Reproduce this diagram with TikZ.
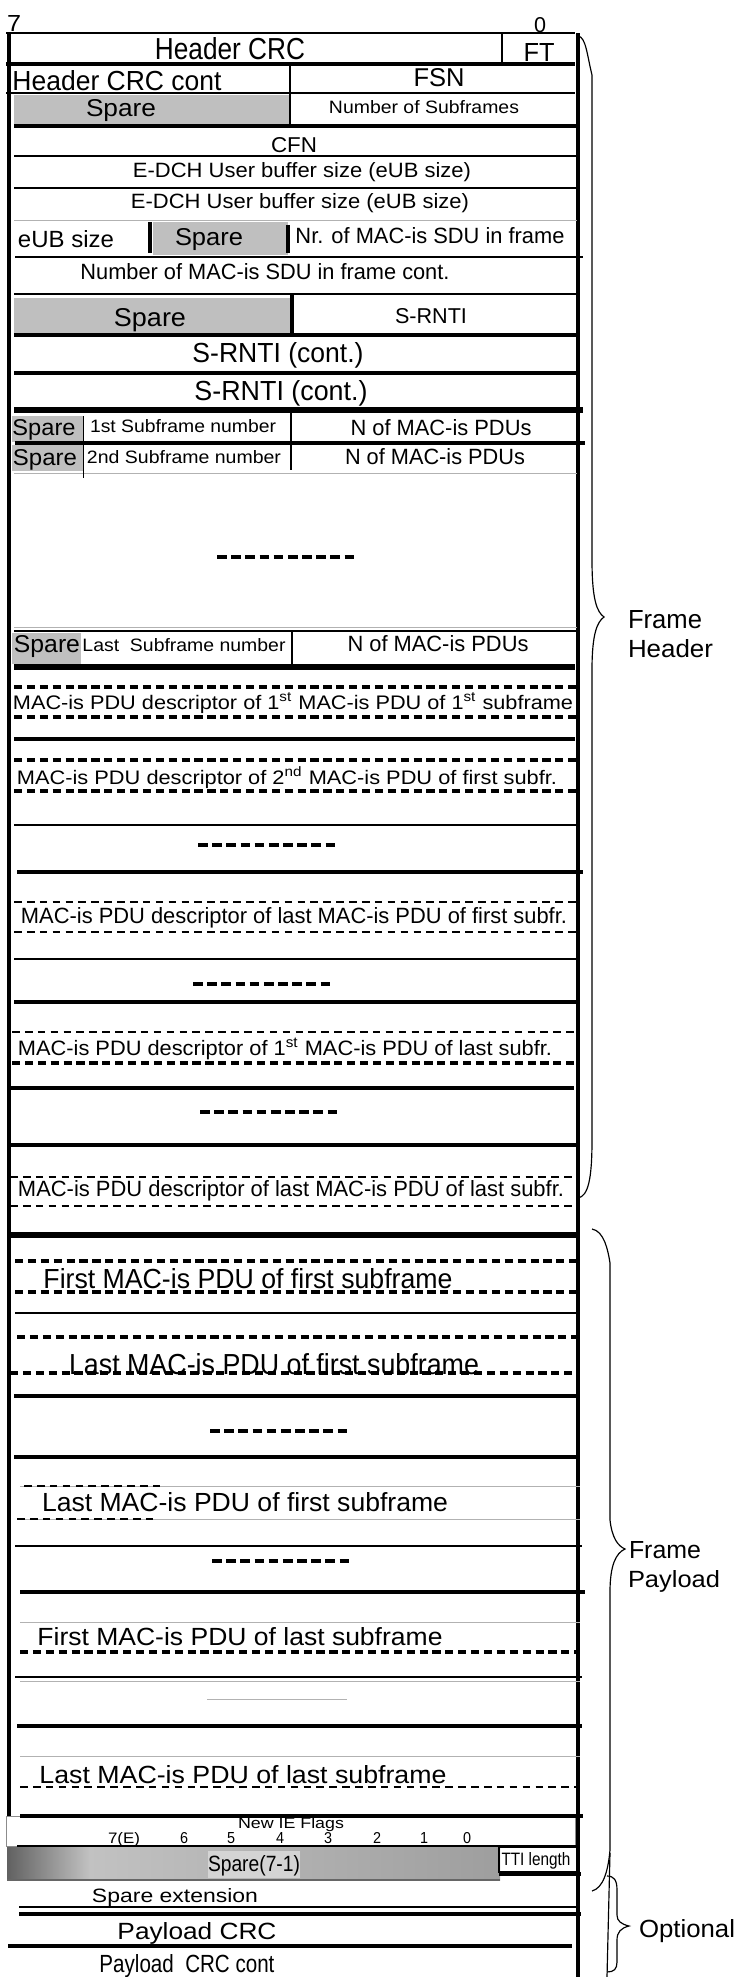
\documentclass[tikz,border=0pt]{standalone}
\usepackage{fontspec}
\setmainfont{Liberation Sans}
\usepackage{graphicx}
\newlength\pxu
\setlength\pxu{0.03cm}
\newcommand\fitbox[3]{\resizebox{#1\pxu}{#2\pxu}{#3}}

\begin{document}
\begin{tikzpicture}[
    x=0.03cm, y=-0.03cm,
    fld/.style={anchor=base, inner sep=0pt, outer sep=0pt},
    side/.style={anchor=base west, inner sep=0pt, outer sep=0pt},
    spg/.style={fill=black!25},
    lwa/.style={line width=1.7pt},
    lwb/.style={line width=2.3pt},
    lwc/.style={line width=2.8pt},
    lwd/.style={line width=3.4pt},
    lwe/.style={line width=4.3pt},
    lwf/.style={line width=5.1pt},
    gln/.style={black!30, line width=0.85pt},
    sqrow/.style={line width=3.8pt, dash pattern=on 7pt off 4pt},
    fdrow/.style={line width=2.3pt, dash pattern=on 6.5pt off 4.5pt},
    gaprow/.style={line width=2.6pt, dash pattern=on 8.3pt off 3.8pt},
    brc/.style={line width=1pt}
]
\useasboundingbox (0,0) rectangle (739,1977);

\fill[spg] (14,95) rectangle (290,124);
\fill[spg] (153,222) rectangle (288,255);
\fill[spg] (14,298) rectangle (290,334);
\fill[spg] (12,416) rectangle (83,442);
\fill[spg] (12,445) rectangle (83,471);
\fill[spg] (12,633) rectangle (81,664);

\shade[left color=black!62, right color=black!24] (7,1847) rectangle (90,1880);
\shade[left color=black!24, middle color=black!16, right color=black!38] (90,1847) rectangle (500,1880);
\fill[black!17] (208,1851) rectangle (300,1878);
\draw[black!60, line width=1.2pt] (7,1880) -- (500,1880);
\draw[black!45, line width=0.85pt] (6,1816) rectangle (575,1846);

\draw[lwc] (9,33) -- (9,1816);
\draw[lwc] (578,33) -- (578,1977);

\draw[lwa] (6,33) -- (575,33) (17,1846) -- (577,1846);
\draw[lwb] (6,93) -- (575,93) (14,156) -- (577,156) (14,188) -- (577,188)
    (15,257) -- (583,257) (14,294) -- (577,294) (14,631) -- (577,631)
    (14,825) -- (577,825) (14,959) -- (577,959) (15,1313) -- (580,1313)
    (15,1546) -- (582,1546) (15,1677) -- (582,1677);
\draw[lwc] (6,64) -- (575,64) (14,126) -- (577,126) (14,335) -- (577,335)
    (15,443) -- (585,443) (19,1914) -- (581,1914) (8,1946) -- (572,1946);
\draw[lwd] (14,373) -- (577,373) (14,739) -- (575,739) (17,872) -- (583,872)
    (14,1002) -- (577,1002) (10,1088) -- (574,1088) (10,1145) -- (577,1145)
    (14,1396) -- (580,1396) (14,1457) -- (580,1457) (20,1592) -- (585,1592)
    (17,1726) -- (582,1726) (20,1816) -- (583,1816) (499,1874) -- (581,1874);
\draw[lwe] (14,410) -- (583,410);
\draw[lwf] (14,667) -- (575,667) (10,1235) -- (577,1235);
\draw[gln] (14,220) -- (577,220) (14,473) -- (577,473) (14,627) -- (577,627)
    (20,1486) -- (580,1486) (17,1519) -- (580,1519) (20,1622) -- (580,1622)
    (20,1681) -- (580,1681) (207,1699) -- (347,1699) (20,1756) -- (580,1756);
\draw[line width=0.9pt] (19,1907) -- (579,1907);
\draw[sqrow] (14,687) -- (577,687) (14,717) -- (577,717) (14,760) -- (577,760)
    (14,791) -- (577,791) (12,1063) -- (577,1063) (15,1261) -- (580,1261)
    (15,1292) -- (577,1292) (17,1337) -- (583,1337) (10,1373) -- (580,1373)
    (20,1652) -- (580,1652);
\draw[fdrow] (14,902) -- (580,902) (14,932) -- (577,932) (12,1032) -- (577,1032)
    (10,1177) -- (577,1177) (10,1206) -- (577,1206) (20,1787) -- (580,1787)
    (24,1486) -- (164,1486) (17,1519) -- (157,1519);
\draw[gaprow] (217,557) -- (355,557) (198,845) -- (338,845) (193,984) -- (331,984)
    (200,1112) -- (340,1112) (210,1431) -- (348,1431) (212,1561) -- (350,1561);

\draw[lwa] (502,33) -- (502,64) (290,64) -- (290,126);
\draw[lwc] (150,222) -- (150,253) (288,225) -- (288,253) (292,294) -- (292,335);
\draw[line width=0.85pt] (83,416) -- (83,478);
\draw[lwb] (291,411) -- (291,470) (292,631) -- (292,665);
\draw[line width=1.2pt] (499,1847) rectangle (578,1872);

\draw[brc] (578,36) .. controls (586,37) and (587,55) .. (592,75) -- (592,560)
    .. controls (592,600) and (597,612) .. (604,617)
    .. controls (597,622) and (592,634) .. (592,670) -- (592,1140)
    .. controls (592,1180) and (588,1196) .. (578,1198);
\draw[brc] (592,1229) .. controls (604,1231) and (608,1250) .. (610,1263) -- (610,1520)
    .. controls (612,1538) and (618,1546) .. (625,1549)
    .. controls (616,1553) and (610,1565) .. (610,1592) -- (610,1850)
    .. controls (608,1872) and (603,1888) .. (592,1891);
\draw[brc] (610,1853) -- (607,1977);
\draw[brc] (607,1876) .. controls (614,1876) and (617,1880) .. (617,1890) -- (617,1915)
    .. controls (617,1921) and (621,1924) .. (629,1926)
    .. controls (621,1928) and (617,1932) .. (617,1940) -- (617,1962)
    .. controls (617,1969) and (614,1972) .. (607,1972);

\node[fld] (bit7) at (14,31) {\fitbox{14}{16}{7}};
\node[fld] (bit0) at (540,32) {\fitbox{12}{15}{0}};
\node[fld] (hcrc) at (230,59) {\fitbox{150}{22}{Header CRC}};
\node[fld] (ft) at (539,61) {\fitbox{31}{18}{FT}};
\node[fld] (hcrcc) at (117,90) {\fitbox{209}{20}{Header CRC cont}};
\node[fld] (fsn) at (439,86) {\fitbox{51}{18}{FSN}};
\node[fld] (spa) at (121,116) {\fitbox{70}{17}{Spare}};
\node[fld] (nsub) at (424,113) {\fitbox{190}{13}{Number of Subframes}};
\node[fld] (cfn) at (294,152) {\fitbox{46}{15}{CFN}};
\node[fld] (euba) at (302,177) {\fitbox{338}{15}{E-DCH User buffer size (eUB size)}};
\node[fld] (eubb) at (300,208) {\fitbox{338}{15}{E-DCH User buffer size (eUB size)}};
\node[fld] (eub) at (66,247) {\fitbox{96}{17}{eUB size}};
\node[fld] (spb) at (209,245) {\fitbox{68}{17}{Spare}};
\node[fld] (nrsdu) at (430,243) {\fitbox{269}{16}{Nr. of MAC-is SDU in frame}};
\node[fld] (nsduc) at (265,279) {\fitbox{369}{16}{Number of MAC-is SDU in frame cont.}};
\node[fld] (spc) at (150,326) {\fitbox{72}{18}{Spare}};
\node[fld] (srnti) at (431,323) {\fitbox{72}{15}{S-RNTI}};
\node[fld] (srntia) at (278,362) {\fitbox{171}{20}{S-RNTI (cont.)}};
\node[fld] (srntib) at (281,400) {\fitbox{173}{20}{S-RNTI (cont.)}};
\node[fld] (spd) at (44,435) {\fitbox{63}{16}{Spare}};
\node[fld] (sub1) at (183,432) {\fitbox{186}{13}{1st Subframe number}};
\node[fld] (npdu1) at (441,435) {\fitbox{181}{16}{N of MAC-is PDUs}};
\node[fld] (spe) at (45,465) {\fitbox{64}{16}{Spare}};
\node[fld] (sub2) at (184,463) {\fitbox{194}{13}{2nd Subframe number}};
\node[fld] (npdu2) at (435,464) {\fitbox{180}{16}{N of MAC-is PDUs}};
\node[fld] (spf) at (47,652) {\fitbox{66}{17}{Spare}};
\node[fld] (subl) at (184,651) {\fitbox{203}{13}{Last\ \ Subframe number}};
\node[fld] (npdul) at (438,651) {\fitbox{181}{16}{N of MAC-is PDUs}};
\node[fld] (dsca) at (293,709) {\fitbox{560}{16}{MAC-is PDU descriptor of 1\textsuperscript{st} MAC-is PDU of 1\textsuperscript{st} subframe}};
\node[fld] (dscb) at (287,784) {\fitbox{540}{17}{MAC-is PDU descriptor of 2\textsuperscript{nd} MAC-is PDU of first subfr.}};
\node[fld] (dscc) at (294,923) {\fitbox{546}{16}{MAC-is PDU descriptor of last MAC-is PDU of first subfr.}};
\node[fld] (dscd) at (285,1055) {\fitbox{534}{17}{MAC-is PDU descriptor of 1\textsuperscript{st} MAC-is PDU of last subfr.}};
\node[fld] (dsce) at (291,1196) {\fitbox{546}{16}{MAC-is PDU descriptor of last MAC-is PDU of last subfr.}};
\node[fld] (pdua) at (248,1288) {\fitbox{409}{20}{First MAC-is PDU of first subframe}};
\node[fld] (pdub) at (274,1374) {\fitbox{410}{21}{Last MAC-is PDU of first subframe}};
\node[fld] (pduc) at (245,1511) {\fitbox{406}{19}{Last MAC-is PDU of first subframe}};
\node[fld] (pdud) at (240,1645) {\fitbox{405}{18}{First MAC-is PDU of last subframe}};
\node[fld] (pdue) at (243,1783) {\fitbox{407}{18}{Last MAC-is PDU of last subframe}};
\node[fld] (ieflag) at (291,1828) {\fitbox{106}{11}{New IE Flags}};
\node[fld] (fl7) at (124,1843) {\fitbox{32}{11}{7(E)}};
\node[fld] (fl6) at (184,1843) {\fitbox{8}{11}{6}};
\node[fld] (fl5) at (231,1843) {\fitbox{8}{11}{5}};
\node[fld] (fl4) at (280,1843) {\fitbox{8}{11}{4}};
\node[fld] (fl3) at (328,1843) {\fitbox{8}{11}{3}};
\node[fld] (fl2) at (377,1843) {\fitbox{8}{11}{2}};
\node[fld] (fl1) at (424,1843) {\fitbox{8}{11}{1}};
\node[fld] (fl0) at (467,1843) {\fitbox{8}{11}{0}};
\node[fld] (sp71) at (254,1871) {\fitbox{92}{16}{Spare(7-1)}};
\node[fld] (tti) at (536,1865) {\fitbox{69}{13}{TTI length}};
\node[fld] (spext) at (175,1902) {\fitbox{166}{14}{Spare extension}};
\node[fld] (pcrc) at (197,1939) {\fitbox{159}{17}{Payload CRC}};
\node[fld] (pcrcc) at (187,1972) {\fitbox{175}{18}{Payload\ \ CRC cont}};

\node[side] (frmh) at (628,628) {\fitbox{74}{18}{Frame}};
\node[side] (hdr) at (628,657) {\fitbox{85}{18}{Header}};
\node[side] (frmp) at (629,1558) {\fitbox{72}{17}{Frame}};
\node[side] (pay) at (628,1587) {\fitbox{92}{17}{Payload}};
\node[side] (opt) at (639,1937) {\fitbox{96}{18}{Optional}};
\end{tikzpicture}
\end{document}
